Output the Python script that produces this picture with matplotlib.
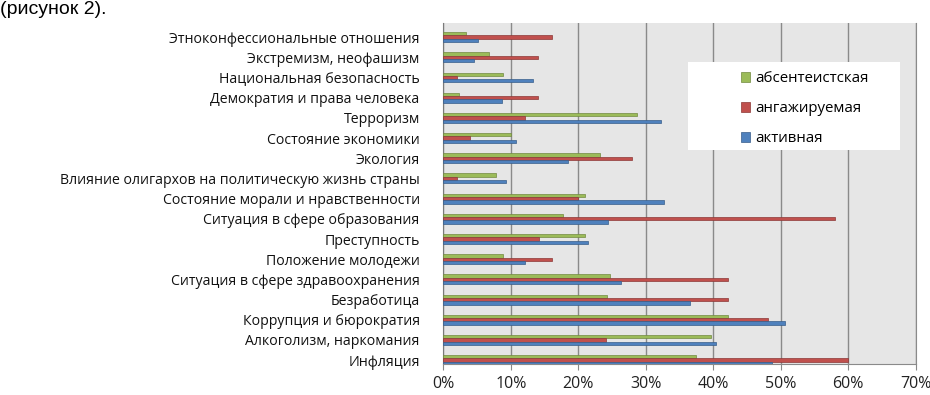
import matplotlib
matplotlib.use("Agg")
import matplotlib.pyplot as plt
import numpy as np
from matplotlib.patches import Rectangle, Patch

plt.rcParams['font.family'] = ['Open Sans', 'DejaVu Sans']

# Categories, top to bottom
categories = [
    "Этноконфессиональные отношения",
    "Экстремизм, неофашизм",
    "Национальная безопасность",
    "Демократия и права человека",
    "Терроризм",
    "Состояние экономики",
    "Экология",
    "Влияние олигархов на политическую жизнь страны",
    "Состояние морали и нравственности",
    "Ситуация в сфере образования",
    "Преступность",
    "Положение молодежи",
    "Ситуация в сфере здравоохранения",
    "Безработица",
    "Коррупция и бюрократия",
    "Алкоголизм, наркомания",
    "Инфляция",
]

# Values in percent, same order as categories
absent = [3.4, 6.7, 8.8, 2.3, 28.7, 10.0, 23.2, 7.8, 21.0, 17.7, 21.0, 8.9, 24.7, 24.3, 42.2, 39.7, 37.4]
engaged = [16.1, 14.1, 2.0, 14.1, 12.1, 4.0, 28.0, 2.0, 20.0, 58.0, 14.2, 16.1, 42.2, 42.2, 48.1, 24.1, 60.0]
active = [5.1, 4.6, 13.3, 8.7, 32.2, 10.7, 18.5, 9.3, 32.7, 24.4, 21.5, 12.1, 26.4, 36.6, 50.7, 40.4, 48.7]

series_names = ["абсентеистская", "ангажируемая", "активная"]
colors = ["#9BBB59", "#C0504D", "#4F81BD"]
edges = ["#71893F", "#8C3836", "#385D8A"]

fig = plt.figure(figsize=(9.3, 3.95), dpi=100)
ax = fig.add_axes([0.4767, 0.0785, 0.5078, 0.8633])
ax.set_facecolor("#E6E6E6")

y = np.arange(len(categories))
h = 0.165
for k, vals in enumerate([absent, engaged, active]):
    ax.barh(y + (k - 1) * h, vals, height=h, color=colors[k],
            edgecolor=edges[k], linewidth=0.5, zorder=3)

ax.set_xlim(0, 70)
ax.set_ylim(len(categories) - 1 + 0.19, -0.70)
ax.set_xticks(np.arange(0, 71, 10))
ax.set_xticklabels([f"{v}%" for v in range(0, 71, 10)], fontsize=11.5, color="#222222")
ax.set_yticks(y)
ax.set_yticklabels(categories, fontsize=10.2, color="#111111")
ax.tick_params(axis="y", length=0, pad=17)
ax.tick_params(axis="x", length=4, color="#888888", pad=5)
ax.grid(axis="x", color="#8A8A8A", linewidth=1.0, zorder=1)

ax.spines["top"].set_visible(False)
ax.spines["right"].set_color("#8A8A8A")
ax.spines["bottom"].set_color("#8A8A8A")
ax.spines["left"].set_color("#7A7A7A")

# Legend box
fig.patches.append(Rectangle((688 / 930, 1 - 150 / 395), 212 / 930, 88 / 395,
                             transform=fig.transFigure, facecolor="white",
                             edgecolor="none", zorder=5))
handles = [Patch(facecolor=c, edgecolor=e, linewidth=0.5) for c, e in zip(colors, edges)]
leg = fig.legend(handles, series_names, loc="upper left",
                 bbox_to_anchor=(733 / 930, 1 - 64 / 395), frameon=False,
                 fontsize=10.8, handlelength=0.65, handleheight=0.65,
                 handletextpad=0.3, labelspacing=0.98, borderpad=0)
leg.set_zorder(6)

fig.text(0.0, 0.997, "(рисунок 2).", fontsize=14, family="Liberation Sans",
         va="top", ha="left")

fig.savefig("out.png", dpi=100)
